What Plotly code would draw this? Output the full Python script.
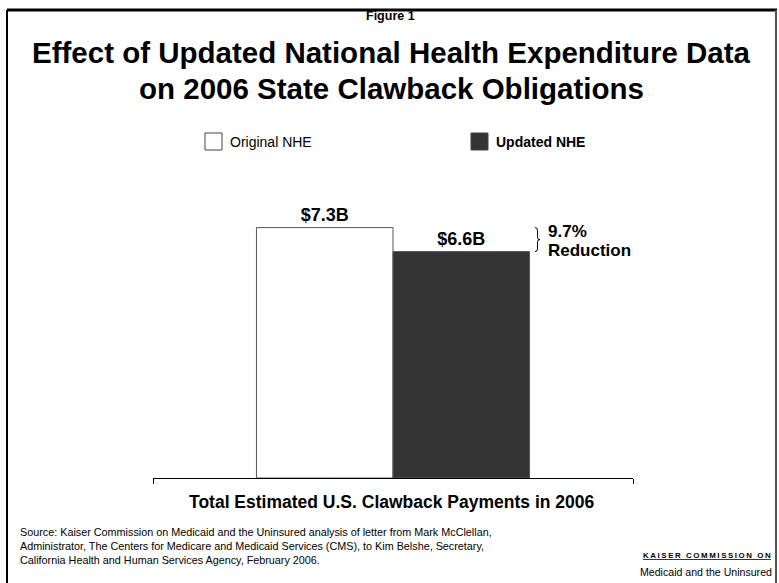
import plotly.graph_objects as go

# ---- data ----
categories = ["Total Estimated U.S. Clawback Payments in 2006"]
series_names = ["Original NHE", "Updated NHE"]
series_values = [[7.3], [6.6]]
value_labels = ["$7.3B", "$6.6B"]
series_colors = ["#ffffff", "#333333"]
reduction_lines = ["9.7%", "Reduction"]
title_lines = ["Effect of Updated National Health Expenditure Data", "on 2006 State Clawback Obligations"]
source_text = ("Source: Kaiser Commission on Medicaid and the Uninsured analysis of letter from Mark McClellan,<br>"
               "Administrator, The Centers for Medicare and Medicaid Services (CMS), to Kim Belshe, Secretary,<br>"
               "California Health and Human Services Agency, February 2006.")
logo_top = "KAISER COMMISSION ON"
logo_bottom = "Medicaid and the Uninsured"

W, H = 779, 583
L, R, T, B = 153, 633, 135, 478  # plot area in px
YMAX = 10.0

def px(x):
    return (x - L) / (R - L)

def py(y):
    return (B - y) / (B - T)

FONT = "Liberation Sans, Arial, sans-serif"

fig = go.Figure()
for name, vals, lab, col in zip(series_names, series_values, value_labels, series_colors):
    fig.add_trace(go.Bar(
        x=[0], y=vals, name=name,
        marker=dict(color=col, line=dict(color="#555555", width=1)),
        text=[lab], texttemplate="<b>%{text}</b>", textposition="outside", cliponaxis=False,
        textfont=dict(family=FONT, size=18, color="black"),
        showlegend=False,
    ))

shapes = []
annotations = []

# frame
shapes.append(dict(type="line", xref="paper", yref="paper", x0=px(7), x1=px(7), y0=py(10), y1=py(583), line=dict(color="black", width=2)))
shapes.append(dict(type="line", xref="paper", yref="paper", x0=px(7), x1=px(777), y0=py(10), y1=py(10), line=dict(color="black", width=3)))
shapes.append(dict(type="line", xref="paper", yref="paper", x0=px(776), x1=px(776), y0=py(10), y1=py(583), line=dict(color="#555555", width=2)))

# legend (manual)
legend_x = [205, 471]
for i, (name, col) in enumerate(zip(series_names, series_colors)):
    x0 = legend_x[i]
    shapes.append(dict(type="rect", xref="paper", yref="paper", x0=px(x0), x1=px(x0 + 17), y0=py(150), y1=py(133),
                       fillcolor=col, line=dict(color="#444444", width=1)))
    txt = name if i == 0 else "<b>" + name + "</b>"
    annotations.append(dict(xref="paper", yref="paper", x=px(x0 + 23), y=py(141.5), text=txt, showarrow=False,
                            xanchor="left", yanchor="middle", font=dict(family=FONT, size=14, color="black")))

# brace showing the reduction
bx = 535
bw = 5
y_hi, y_lo = series_values[0][0], series_values[1][0]
y_mid = (y_hi + y_lo) / 2
x0p, x1p, x2p = px(bx), px(bx + bw / 2), px(bx + bw)
path = (f"M {x0p},{y_hi} Q {x1p},{y_hi} {x1p},{y_hi - 0.08} L {x1p},{y_mid + 0.06} Q {x1p},{y_mid} {x2p},{y_mid} "
        f"Q {x1p},{y_mid} {x1p},{y_mid - 0.06} L {x1p},{y_lo + 0.08} Q {x1p},{y_lo} {x0p},{y_lo}")
shapes.append(dict(type="path", xref="paper", yref="y", path=path, line=dict(color="black", width=1)))
for line_txt, yy in zip(reduction_lines, [231, 250]):
    annotations.append(dict(xref="paper", yref="paper", x=px(546), y=py(yy), text="<b>" + line_txt + "</b>",
                            showarrow=False, xanchor="left", yanchor="middle", align="left",
                            font=dict(family=FONT, size=17, color="black")))

# titles
annotations.append(dict(xref="paper", yref="paper", x=px(390), y=py(16), text="<b>Figure 1</b>", showarrow=False,
                        xanchor="center", yanchor="middle", font=dict(family=FONT, size=12.5, color="black")))
for line_txt, yy in zip(title_lines, [52, 88]):
    annotations.append(dict(xref="paper", yref="paper", x=px(391), y=py(yy), text="<b>" + line_txt + "</b>",
                            showarrow=False, xanchor="center", yanchor="middle", align="center",
                            font=dict(family=FONT, size=29.5, color="black")))

# x category label
annotations.append(dict(xref="paper", yref="paper", x=px(392), y=py(502), text="<b>" + categories[0] + "</b>",
                        showarrow=False, xanchor="center", yanchor="middle", font=dict(family=FONT, size=17.5, color="black")))

# source
annotations.append(dict(xref="paper", yref="paper", x=px(18), y=py(546), text=source_text,
                        showarrow=False, xanchor="left", yanchor="middle", align="left",
                        font=dict(family=FONT, size=10.8, color="black")))

# logo
spaced = "\u2009".join(list(logo_top))
annotations.append(dict(xref="paper", yref="paper", x=px(773), y=py(555),
                        text="<b><u>" + spaced + "</u></b>",
                        showarrow=False, xanchor="right", yanchor="middle", font=dict(family=FONT, size=7.9, color="black")))
annotations.append(dict(xref="paper", yref="paper", x=px(774), y=py(572),
                        text=logo_bottom,
                        showarrow=False, xanchor="right", yanchor="middle", font=dict(family=FONT, size=10.6, color="black")))

fig.update_layout(
    width=W, height=H,
    margin=dict(l=L, r=W - R, t=T, b=H - B, pad=0),
    paper_bgcolor="white", plot_bgcolor="white",
    barmode="group", bargap=0.431, bargroupgap=0,
    showlegend=False,
    shapes=shapes, annotations=annotations,
    xaxis=dict(range=[-0.5, 0.5], showgrid=False, zeroline=False, showline=True, linecolor="black", linewidth=1,
               tickvals=[-0.5, 0.5], ticks="outside", ticklen=5, tickcolor="black", showticklabels=False, fixedrange=True),
    yaxis=dict(range=[0, YMAX], visible=False, fixedrange=True),
    font=dict(family=FONT),
)

fig.write_html("out.html")
